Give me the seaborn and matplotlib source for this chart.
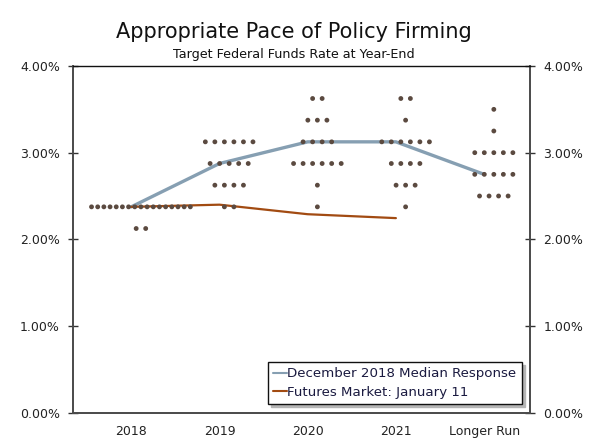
import numpy as np
import pandas as pd
import matplotlib
matplotlib.use("Agg")
import matplotlib.pyplot as plt
import seaborn as sns

# ---- data ----
categories = ["2018", "2019", "2020", "2021", "Longer Run"]

levels_2018 = [2.375, 2.125]
counts_2018 = [17, 2]
levels_2019 = [3.125, 2.875, 2.625, 2.375]
counts_2019 = [6, 5, 4, 2]
levels_2020 = [3.625, 3.375, 3.125, 2.875, 2.625, 2.375]
counts_2020 = [2, 3, 4, 6, 1, 1]
levels_2021 = [3.625, 3.375, 3.125, 2.875, 2.625, 2.375]
counts_2021 = [2, 1, 6, 4, 3, 1]
levels_lr = [3.5, 3.25, 3.0, 2.75, 2.5]
counts_lr = [1, 1, 5, 5, 4]

median_response = [2.375, 2.875, 3.125, 3.125, 2.75]
futures_market = [2.375, 2.40, 2.29, 2.245]

y_ticks = [0, 1, 2, 3, 4]
y_tick_labels = ["0.00%", "1.00%", "2.00%", "3.00%", "4.00%"]

median_label = "December 2018 Median Response"
futures_label = "Futures Market: January 11"

# ---- build dot table ----
dot_levels = [levels_2018, levels_2019, levels_2020, levels_2021, levels_lr]
dot_counts = [counts_2018, counts_2019, counts_2020, counts_2021, counts_lr]
SPACING = 0.108
MAX_WIDTH = 1.12
SHIFT = 0.11
rows = []
for i, (lv, ct) in enumerate(zip(dot_levels, dot_counts)):
    for rate, n in zip(lv, ct):
        sp = SPACING if (n - 1) * SPACING <= MAX_WIDTH else MAX_WIDTH / (n - 1)
        offs = (np.arange(n) - (n - 1) / 2) * sp
        for o in offs:
            rows.append({"x": i + SHIFT + o, "rate": rate})
dots = pd.DataFrame(rows)

lines = pd.DataFrame({
    "x": list(range(len(median_response))) + list(range(len(futures_market))),
    "rate": median_response + futures_market,
    "series": [median_label] * len(median_response) + [futures_label] * len(futures_market),
})

# ---- plot ----
sns.set_style("white")
plt.rcParams["font.family"] = ["DejaVu Sans"]

fig = plt.figure(figsize=(6, 4.44), dpi=100)
ax = fig.add_axes([73 / 600, 1 - 412.7 / 444, (530 - 73) / 600, (412.7 - 66) / 444])

sns.lineplot(data=lines, x="x", y="rate", hue="series",
             palette={median_label: "#869fb2", futures_label: "#a24b12"},
             ax=ax, sort=False, legend=True, zorder=2)
for l, lw in zip(ax.get_lines(), [2.4, 1.6]):
    l.set_linewidth(lw)
sns.scatterplot(data=dots, x="x", y="rate", color="#5b4a40", s=12,
                edgecolor="none", ax=ax, zorder=3, legend=False)

ax.set_xlim(-0.66, 4.52)
ax.set_ylim(0, 4)
ax.set_xticks(range(len(categories)))
ax.set_xticklabels(categories, fontsize=9, color="#222222")
ax.set_yticks(y_ticks)
ax.set_yticklabels(y_tick_labels, fontsize=9, color="#222222")
ax.tick_params(axis="y", which="both", left=True, right=True, labelleft=True,
               labelright=True, direction="inout", length=7, width=1,
               color="#333333", pad=6)
ax.tick_params(axis="x", length=0, pad=9)
ax.set_xlabel("")
ax.set_ylabel("")
for side in ["left", "bottom", "right"]:
    ax.spines[side].set_color("#4a4a4a")
    ax.spines[side].set_linewidth(1.4)
ax.spines["top"].set_color("#111111")
ax.spines["top"].set_linewidth(1.0)

handles, labels = ax.get_legend_handles_labels()
leg = ax.legend(handles, labels, loc="lower right", bbox_to_anchor=(0.982, 0.025),
                borderaxespad=0, fontsize=9.6, frameon=True, fancybox=False,
                handlelength=1.0, handletextpad=0.05, labelspacing=0.4,
                borderpad=0.4, shadow={"color": "#b5b5b5", "alpha": 1})
leg.get_frame().set_edgecolor("#111111")
leg.get_frame().set_linewidth(1.0)
for t in leg.get_texts():
    t.set_color("#1a1a40")

fig.text(0.49, 1 - 38 / 444, "Appropriate Pace of Policy Firming", ha="center",
         va="baseline", fontsize=15, color="#111111")
fig.text(0.49, 1 - 58 / 444, "Target Federal Funds Rate at Year-End", ha="center",
         va="baseline", fontsize=9.2, color="#111111")

fig.savefig("out.png", dpi=100, facecolor="white")
